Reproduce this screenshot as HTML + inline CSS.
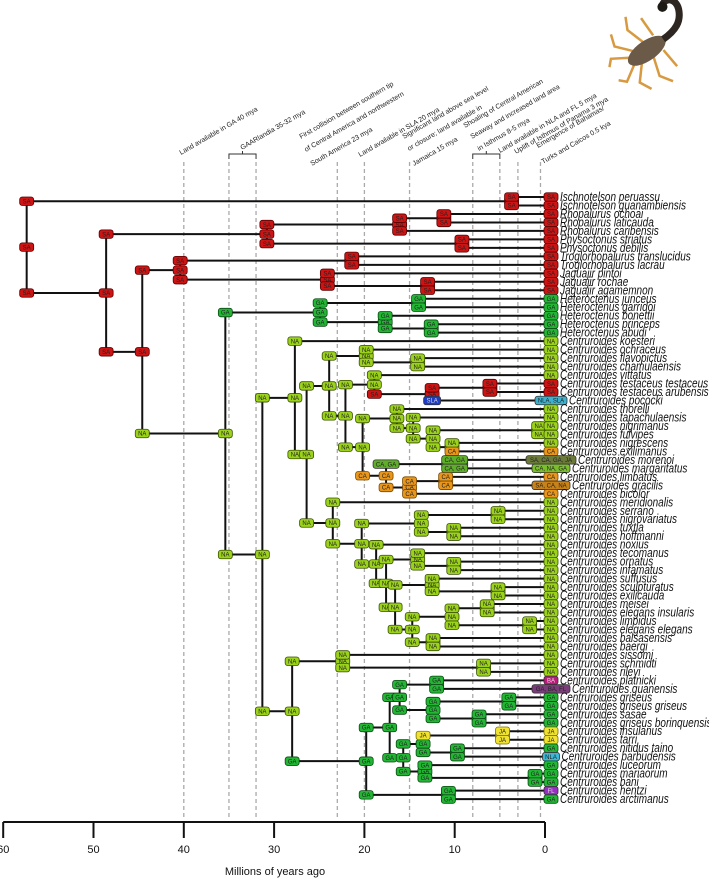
<!DOCTYPE html>
<html><head><meta charset="utf-8">
<style>
html,body{margin:0;padding:0;background:#fff;}
svg{display:block;}
.tl{font-family:"Liberation Sans",sans-serif;font-style:italic;font-size:12.5px;fill:#111;}
.bx{font-family:"Liberation Sans",sans-serif;font-size:6px;}
.an{font-family:"Liberation Sans",sans-serif;font-size:7px;fill:#222;}
.ax{font-family:"Liberation Sans",sans-serif;font-size:11px;fill:#111;}
</style></head>
<body>
<svg id="chart" width="709" height="879" viewBox="0 0 709 879">
<g id="events"></g>
<g id="branches"></g>
<g id="boxes"></g>
<g id="tips"></g>
<g id="axis"></g>
<g transform="translate(655,45) rotate(-35)">
  <g stroke="#d89a40" stroke-width="2.5" fill="none">
    <path d="M-20,-6 L-34,-22 L-30,-34"/><path d="M-8,-9 L-14,-28 L-8,-40"/><path d="M4,-9 L4,-30"/>
    <path d="M-20,6 L-34,22 L-28,34"/><path d="M-8,9 L-14,28 L-6,40"/><path d="M4,9 L6,30"/>
    <path d="M-28,-4 L-44,-14 L-50,-8"/><path d="M-28,4 L-44,14 L-50,8"/>
  </g>
  <ellipse cx="-10" cy="0" rx="22" ry="10" fill="#6b5a48"/>
  <path d="M10,0 C25,0 35,-4 40,-16 C44,-26 36,-34 28,-28" stroke="#2e2620" stroke-width="7" fill="none"/>
  <circle cx="28" cy="-27" r="5" fill="#1e1a16"/>
</g>
</svg>
<script>
// ---- data ----
const tipNames = ["Ischnotelson peruassu","Ischnotelson guanambiensis","Rhopalurus ochoai","Rhopalurus laticauda","Rhopalurus caribensis","Physoctonus striatus","Physoctonus debilis","Troglorhopalurus translucidus","Troglorhopalurus lacrau","Jaguajir pintoi","Jaguajir rochae","Jaguajir agamemnon","Heteroctenus junceus","Heteroctenus garridoi","Heteroctenus bonettii","Heteroctenus princeps","Heteroctenus abudi","Centruroides koesteri","Centruroides ochraceus","Centruroides flavopictus","Centruroides chamulaensis","Centruroides vittatus","Centruroides testaceus testaceus","Centruroides testaceus arubensis","Centruroides pococki","Centruroides thorelli","Centruroides tapachulaensis","Centruroides nigrimanus","Centruroides fulvipes","Centruroides nigrescens","Centruroides exilimanus","Centruroides morenoi","Centruroides margaritatus","Centruroides limbatus","Centruroides gracilis","Centruroides bicolor","Centruroides meridionalis","Centruroides serrano","Centruroides nigrovariatus","Centruroides tuxtla","Centruroides hoffmanni","Centruroides noxius","Centruroides tecomanus","Centruroides ornatus","Centruroides infamatus","Centruroides suffusus","Centruroides sculpturatus","Centruroides exilicauda","Centruroides meisei","Centruroides elegans insularis","Centruroides limpidus","Centruroides elegans elegans","Centruroides balsasensis","Centruroides baergi","Centruroides sissomi","Centruroides schmidti","Centruroides rileyi","Centruroides platnicki","Centruroides guanensis","Centruroides griseus","Centruroides griseus griseus","Centruroides sasae","Centruroides griseus borinquensis","Centruroides insulanus","Centruroides tarri","Centruroides nitidus taino","Centruroides barbudensis","Centruroides luceorum","Centruroides mariaorum","Centruroides bani","Centruroides hentzi","Centruroides arctimanus"];
const tipStates = ["SA","SA","SA","SA","SA","SA","SA","SA","SA","SA","SA","SA","GA","GA","GA","GA","GA","NA","NA","NA","NA","NA","SA","SA","NLA, SLA","NA","NA","NA","NA","NA","CA","SA, CA, GA, JA","CA, NA, GA","CA","SA, CA, NA","CA","NA","NA","NA","NA","NA","NA","NA","NA","NA","NA","NA","NA","NA","NA","NA","NA","NA","NA","NA","NA","NA","BA","GA, BA, FL","GA","GA","GA","GA","JA","JA","GA","NLA","GA","GA","GA","FL","GA"];
const nodeIds = ["n0","n1","n2","n3","n4","n4a","n5","n6","n7","n8","n9","n10","n11","n12","n13","n14","n15","n16","n17","n18","n19","n20","n21","n22","n23","n24","n25","n26","n27","n28","n29","n30","n31","n32","n33","n34","n35","n36","n37","n38","n39","n40","n41","n42","n43","n44","n45","n46","n47","n48","n49","n50","n51","n52b","n52","n53","n54","n55","n56","n57","n58","n59","n60","n61","n62","n63","n64","n64b","n65","n65b","n66"];
const nodeAges = [57.4,3.7,48.6,30.8,16.1,11.2,9.2,44.6,40.4,21.4,24.1,13.0,35.4,24.9,14.0,17.7,12.6,31.3,27.7,26.4,23.9,19.8,14.1,22.1,18.9,12.5,6.1,20.2,16.4,14.6,12.4,0.7,10.3,17.6,10.0,15.0,11.0,23.5,20.3,13.7,5.2,10.1,18.7,17.6,14.1,10.1,16.6,12.5,5.2,14.7,10.3,6.4,1.7,12.4,28.0,22.4,6.8,19.8,17.2,16.1,12.0,12.4,4.0,7.3,15.7,13.5,4.7,9.7,13.3,1.1,10.7];
const nodeStates = ["SA","SA","SA","SA","SA","SA","SA","SA","SA","SA","SA","SA","NA","GA","GA","GA","GA","NA","NA","NA","NA","NA","NA","NA","NA","SA","SA","NA","NA","NA","NA","NA","NA","CA","CA, GA","CA","CA","NA","NA","NA","NA","NA","NA","NA","NA","NA","NA","NA","NA","NA","NA","NA","NA","NA","NA","NA","NA","GA","GA","GA","GA","GA","GA","GA","GA","GA","JA","GA","GA","GA","GA"];
const nodeKids = [["n1","n2"],["t0","t1"],["n3","n6"],["n4","n5"],["n4a","t4"],["t2","t3"],["t5","t6"],["n7","n11"],["n8","n9"],["t7","t8"],["t9","n10"],["t10","t11"],["n12","n16"],["n13","n14"],["t12","t13"],["t14","n15"],["t15","t16"],["n17","n52"],["t17","n18"],["n19","n36"],["n20","n22"],["t18","n21"],["t19","t20"],["n23","n26"],["t21","n24"],["n25","t24"],["t22","t23"],["n27","n32"],["t25","n28"],["t26","n29"],["n30","n31"],["t27","t28"],["t29","t30"],["n33","n34"],["t31","t32"],["n35","t35"],["t33","t34"],["t36","n37"],["n38","n41"],["n39","n40"],["t37","t38"],["t39","t40"],["t41","n42"],["n43","n45"],["t42","n44"],["t43","t44"],["n46","n48"],["t45","n47"],["t46","t47"],["n49","n52b"],["n50","n51"],["t48","t49"],["t50","t51"],["t52","t53"],["n53","n55"],["t54","n54"],["t55","t56"],["n56","n66"],["n57","n62"],["n58","n59"],["t57","t58"],["n60","n61"],["t59","t60"],["t61","t62"],["n63","n65"],["n64","n64b"],["t63","t64"],["t65","t66"],["t67","n65b"],["t68","t69"],["t70","t71"]];
const startStateOverride = {"t24":"SLA","t30":"CA"};
const axisTicks = [60,50,40,30,20,10,0];
const eventAges = [40,35,32,23,20,15,8,5,3,0.5];
const eventTexts = [
 ["Land available in GA 40 mya",181,155],["GAARlandia 35-32 mya",242,150],
 ["First collision between southern tip",301,139],["of Central America and northwestern",306,152],["South America 23 mya",312,166],
 ["Land available in SLA 20 mya",360,157],
 ["Significant land above sea level",404,139],["or closure; land available in",409,151],["Jamaica 15 mya",414,166],
 ["Shoaling of Central American",465,128],["Seaway and increased land area",472,139],["in Isthmus 8-5 mya",479,151],
 ["Land available in NLA and FL 5 mya",500,153],["Uplift of Isthmus of Panama 3 mya",516,154],
 ["Emergence of Bahamas/",538,148],["Turks and Caicos 0.5 kya",543,164]];

// ---- scales ----
const X0 = 545, PX = 9.03;
const xs = a => X0 - a*PX;
const ys = i => 197 + i*8.48;
const NS = "http://www.w3.org/2000/svg";
function mk(tag, attrs, parent){const e=document.createElementNS(NS,tag);for(const k in attrs)e.setAttribute(k,attrs[k]);parent.appendChild(e);return e;}
const colors = {"SA":"#cc1414","GA":"#22b634","NA":"#9bd21c","CA":"#e8961c","JA":"#f0e232","SLA":"#1c3cc8","NLA":"#3cb8d6","BA":"#c0187f","FL":"#9a2cc8","NLA, SLA":"#3cb2d0","SA, CA, GA, JA":"#6b7a3a","CA, GA":"#5fae2a","CA, NA, GA":"#7abf2a","SA, CA, NA":"#c8821a","GA, BA, FL":"#7a3d7a"};
const strokes = {"SA":"#5a0000","GA":"#0c4a14","NA":"#3a5200","CA":"#7a4a00","JA":"#7a7000"};

// ---- layout ----
const nIdx = {}; nodeIds.forEach((id,i)=>nIdx[id]=i);
const pos = {};
tipNames.forEach((n,i)=>pos["t"+i]={x:X0,y:ys(i),tip:true,state:tipStates[i]});
function place(id){
  if(pos[id]) return pos[id];
  const i=nIdx[id]; const ks=nodeKids[i].map(place);
  pos[id]={x:xs(nodeAges[i]),y:(ks[0].y+ks[ks.length-1].y)/2,state:nodeStates[i]};
  return pos[id];
}
place("n0");

const gB=document.getElementById("branches"), gX=document.getElementById("boxes"), gT=document.getElementById("tips"), gE=document.getElementById("events"), gA=document.getElementById("axis");

// events
eventAges.forEach((a,i)=>{
  const l=mk("line",{x1:xs(a),x2:xs(a),y1:162,y2:820,stroke:"#aaa","stroke-width":1.3,"stroke-dasharray":"4,3"},gE);
  
  
});
[[35,32],[8,5]].forEach(p=>{
  const b=mk("path",{d:`M${xs(p[0])},159 V154 H${xs(p[1])} V159 M${(xs(p[0])+xs(p[1]))/2},154 V151`,stroke:"#333","stroke-width":1,fill:"none"},gE);
  
  
});
eventTexts.forEach(t=>{
  const e=mk("text",{x:t[1],y:t[2],class:"an",transform:`rotate(-30 ${t[1]} ${t[2]})`},gE);
  e.textContent=t[0];
  
  
});

// branches
nodeIds.forEach((id,i)=>{
  const p=pos[id]; const ks=nodeKids[i].map(k=>pos[k]);
  const v=mk("line",{x1:p.x,x2:p.x,y1:ks[0].y,y2:ks[ks.length-1].y,stroke:"#111","stroke-width":2},gB);
  
  
  ks.forEach(k=>{
    const h=mk("line",{x1:p.x,x2:k.x,y1:k.y,y2:k.y,stroke:"#111","stroke-width":2},gB);
    
    
  });
});

function box(cx,cy,st,name){
  const w=8+3*st.length, h=8.5;
  const g=mk("g",{},gX);
  
  
  mk("rect",{x:cx-w/2,y:cy-h/2,width:w,height:h,rx:2.5,fill:colors[st]||"#888",stroke:strokes[st]||"#333","stroke-width":0.8},g);
  const t=mk("text",{x:cx,y:cy+2.2,"text-anchor":"middle",class:"bx",fill:(st==="SLA"||st==="BA"||st==="FL")?"#ddd":"#222"},g);
  t.textContent=st;
  return w;
}
nodeIds.forEach((id,i)=>{
  const p=pos[id];
  box(p.x,p.y,p.state,'node-state-box');
  nodeKids[i].forEach(k=>{
    const c=pos[k];
    const s=startStateOverride[k]||(c.tip?p.state:c.state);
    box(p.x,c.y,s,'branch-start-box');
  });
});
tipNames.forEach((n,i)=>{
  const p=pos["t"+i];
  const w=box(551,p.y,p.state,'tip-state-box');
  const lx=Math.max(557,551+w/2+2);
  const t=mk("text",{x:0,y:0,class:"tl",transform:`translate(${lx},${p.y+4}) scale(0.8,1)`},gT);
  t.textContent=n;
  
  
});

// axis
const al=mk("line",{x1:xs(60),x2:xs(0),y1:822,y2:822,stroke:"#111","stroke-width":2},gA);


axisTicks.forEach(v=>{
  const tk=mk("line",{x1:xs(v),x2:xs(v),y1:822,y2:838,stroke:"#111","stroke-width":2},gA);
  
  
  const lb=mk("text",{x:xs(v),y:853,"text-anchor":"middle",class:"ax"},gA);
  lb.textContent=v;
  
  
});
const ttl=mk("text",{x:275,y:875,"text-anchor":"middle",class:"ax","font-size":"10"},gA);
ttl.textContent="Millions of years ago";


</script>
</body></html>
